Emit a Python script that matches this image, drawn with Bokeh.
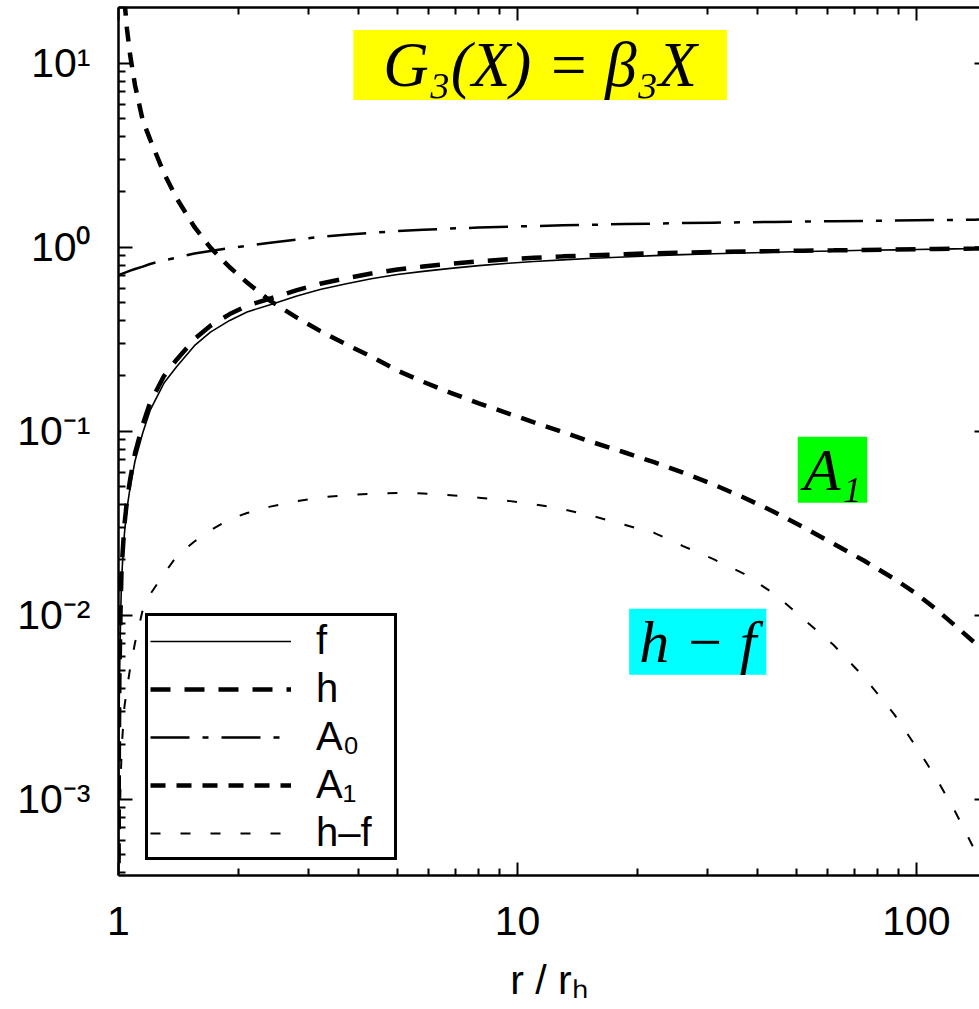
import numpy as np
from bokeh.plotting import figure
from bokeh.models import (LogAxis, FixedTicker, Legend, LegendItem, Label,
                          Range1d, ColumnDataSource)
from bokeh.embed import file_html
from bokeh.resources import INLINE

# ---------------- data ----------------
r = [1.0005, 1.002, 1.005, 1.0116, 1.017, 1.023, 1.035, 1.05, 1.07, 1.1,
     1.15, 1.2, 1.3, 1.4, 1.55, 1.7, 1.9, 2.1, 2.4, 2.8, 3.2, 3.7, 4.3, 5.0,
     5.8, 6.8, 8.0, 9.5, 11, 13, 15.5, 18.5, 22, 26, 31, 37, 44, 52, 62, 74,
     88, 100, 112, 125, 140, 150]

f = [0.0004, 0.0016, 0.004, 0.0091, 0.015, 0.019, 0.028, 0.038, 0.050, 0.069,
     0.098, 0.130, 0.183, 0.225, 0.292, 0.346, 0.4006, 0.4456, 0.488, 0.5435,
     0.5898, 0.6317, 0.6743, 0.7114, 0.7404, 0.7688, 0.7952, 0.8196, 0.837,
     0.8552, 0.8715, 0.8867, 0.901, 0.9126, 0.923, 0.9323, 0.9405, 0.9488,
     0.9559, 0.9632, 0.9692, 0.9741, 0.9777, 0.9814, 0.985, 0.9875]

h = [0.00045, 0.0018, 0.0045, 0.0103, 0.0167, 0.0212, 0.0312, 0.042, 0.0552,
     0.0761, 0.1087, 0.143, 0.1998, 0.246, 0.3172, 0.375, 0.4339, 0.4816,
     0.527, 0.5853, 0.6335, 0.6767, 0.7201, 0.7576, 0.7864, 0.8138, 0.8388,
     0.8615, 0.8772, 0.893, 0.9061, 0.9178, 0.9291, 0.9364, 0.9432, 0.9491,
     0.9536, 0.9584, 0.9628, 0.9678, 0.9721, 0.976, 0.979, 0.9823, 0.9855,
     0.9879]

A0 = [0.706, 0.707, 0.709, 0.713, 0.716, 0.72, 0.727, 0.735, 0.747, 0.762,
      0.785, 0.812, 0.85, 0.88, 0.925, 0.955, 0.99, 1.02, 1.06, 1.10, 1.14,
      1.17, 1.20, 1.225, 1.245, 1.265, 1.28, 1.295, 1.305, 1.317, 1.327,
      1.337, 1.346, 1.354, 1.361, 1.368, 1.374, 1.38, 1.386, 1.392, 1.398,
      1.402, 1.406, 1.41, 1.414, 1.417]

A1 = [1500, 380, 150, 66, 45, 33, 22, 15.4, 11.0, 7.6, 4.9, 3.86, 2.53, 1.84,
      1.29, 0.996, 0.779, 0.644, 0.512, 0.415, 0.3515, 0.2987, 0.255, 0.214,
      0.186, 0.162, 0.142, 0.125, 0.112, 0.099, 0.087, 0.077, 0.068, 0.0597,
      0.0514, 0.0436, 0.0365, 0.0302, 0.0245, 0.0198, 0.0158, 0.0131, 0.0108,
      0.0088, 0.0071, 0.0063]

h_minus_f = [0.00005, 0.0002, 0.0005, 0.0012, 0.0017, 0.0022, 0.0032, 0.0040,
             0.0052, 0.0071, 0.0107, 0.0130, 0.0168, 0.0210, 0.0252, 0.0290,
             0.0333, 0.0360, 0.0390, 0.0418, 0.0437, 0.0450, 0.0458, 0.0462,
             0.0460, 0.0450, 0.0436, 0.0419, 0.0402, 0.0378, 0.0346, 0.0311,
             0.0281, 0.0238, 0.0202, 0.0168, 0.0131, 0.0096, 0.0069, 0.0046,
             0.0029, 0.00192, 0.00131, 0.00086, 0.00053, 0.00043]

legend_labels = ["f", "h", "A₀", "A₁", "h–f"]
x_ticks = [1, 10, 100]
x_tick_labels = ["1", "10", "100"]
y_ticks = [1e-3, 1e-2, 1e-1, 1.0, 10.0]
y_tick_labels = ["10⁻³", "10⁻²", "10⁻¹", "10⁰", "10¹"]
x_title = "r / rₕ"
ann_G3 = "G₃(X) = β₃X"
ann_A1 = "A₁"
ann_hf = "h − f"

# ---------------- figure ----------------
XR = (1.0, 143.9)
YR = (3.86e-4, 20.1)

p = figure(width=979, height=1009, x_axis_type="log", y_axis_type="log",
           x_range=Range1d(*XR), y_range=Range1d(*YR),
           output_backend="svg", toolbar_location=None,
           min_border_left=118, min_border_right=0,
           min_border_top=7, min_border_bottom=134)
p.outline_line_color = None
p.xgrid.visible = False
p.ygrid.visible = False
p.background_fill_color = "white"
p.border_fill_color = "white"

x_minor = [m * 10.0 ** k for k in range(0, 3) for m in range(2, 10)
           if XR[0] < m * 10.0 ** k < XR[1]]
y_minor = [m * 10.0 ** k for k in range(-4, 2) for m in range(2, 10)
           if YR[0] < m * 10.0 ** k < YR[1]]

FONT = "Liberation Sans"

xa = p.xaxis[0]
xa.ticker = FixedTicker(ticks=x_ticks, minor_ticks=x_minor)
xa.major_label_overrides = {float(t): s for t, s in zip(x_ticks, x_tick_labels)}
xa.major_tick_in = 13
xa.major_tick_out = 0
xa.minor_tick_in = 7
xa.minor_tick_out = 0
xa.axis_line_width = 2.5
xa.axis_line_color = "black"
xa.major_tick_line_width = 2
xa.minor_tick_line_width = 2
xa.major_tick_line_color = "black"
xa.minor_tick_line_color = "black"
xa.major_label_text_font = FONT
xa.major_label_text_font_size = "41px"
xa.major_label_text_color = "black"
xa.major_label_standoff = 31
xa.axis_label = x_title
xa.axis_label_text_font = FONT
xa.axis_label_text_font_size = "41px"
xa.axis_label_text_font_style = "normal"
xa.axis_label_text_color = "black"
xa.axis_label_standoff = 19

ya = p.yaxis[0]
ya.ticker = FixedTicker(ticks=y_ticks, minor_ticks=y_minor)
ya.major_label_overrides = {float(t): s for t, s in zip(y_ticks, y_tick_labels)}
ya.major_tick_in = 14
ya.major_tick_out = 0
ya.minor_tick_in = 7
ya.minor_tick_out = 0
ya.axis_line_width = 2.5
ya.axis_line_color = "black"
ya.major_tick_line_width = 2
ya.minor_tick_line_width = 2
ya.major_tick_line_color = "black"
ya.minor_tick_line_color = "black"
ya.major_label_text_font = FONT
ya.major_label_text_font_size = "41px"
ya.major_label_text_color = "black"
ya.major_label_standoff = 28

top = LogAxis(ticker=FixedTicker(ticks=x_ticks, minor_ticks=x_minor),
              major_tick_in=13, major_tick_out=0, minor_tick_in=7, minor_tick_out=0,
              axis_line_width=2.5, axis_line_color="black",
              major_tick_line_width=2, minor_tick_line_width=2,
              major_label_text_font_size="0px", major_label_standoff=0,
              major_label_overrides={float(t): "" for t in x_ticks})
p.add_layout(top, "above")

right = LogAxis(ticker=FixedTicker(ticks=y_ticks, minor_ticks=[]),
                major_tick_in=5, major_tick_out=0, minor_tick_in=0, minor_tick_out=0,
                axis_line_color=None, major_tick_line_width=2,
                major_label_text_font_size="0px", major_label_standoff=0,
                major_label_overrides={float(t): "" for t in y_ticks})
p.add_layout(right, "right")

src = ColumnDataSource(dict(r=r, f=f, h=h, A0=A0, A1=A1, hmf=h_minus_f))

r_f = p.line("r", "f", source=src, line_color="black", line_width=1.6)
r_h = p.line("r", "h", source=src, line_color="black", line_width=4.5,
             line_dash="20 14")
r_a0 = p.line("r", "A0", source=src, line_color="black", line_width=2.5,
              line_dash="39 13 6 13")
r_a1 = p.line("r", "A1", source=src, line_color="black", line_width=4.5,
              line_dash="15 11")
r_hf = p.line("r", "hmf", source=src, line_color="black", line_width=2,
              line_dash="10 20")

legend = Legend(items=[LegendItem(label=lab, renderers=[rr]) for lab, rr in
                       zip(legend_labels, [r_f, r_h, r_a0, r_a1, r_hf])],
                location=(27, 15), orientation="vertical")
legend.border_line_color = "black"
legend.border_line_alpha = 1.0
legend.border_line_width = 3
legend.background_fill_color = "white"
legend.background_fill_alpha = 1.0
legend.label_text_font = FONT
legend.label_text_font_size = "40px"
legend.label_text_color = "black"
legend.glyph_width = 141
legend.glyph_height = 40
legend.label_height = 40
legend.label_width = 76
legend.label_standoff = 25
legend.padding = 2
legend.spacing = 3
legend.margin = 0
p.add_layout(legend)

SERIF = "Liberation Serif"
lab1 = Label(x=11.4, y=9.8, text=ann_G3, text_font=SERIF, text_font_style="italic",
             text_font_size="63px", text_align="center", text_baseline="middle",
             text_color="black", background_fill_color="#ffff00",
             padding=dict(left=30, right=30, top=0, bottom=0))
lab2 = Label(x=61.6, y=0.0618, text=ann_A1, text_font=SERIF, text_font_style="italic",
             text_font_size="60px", text_align="center", text_baseline="middle",
             text_color="black", background_fill_color="#00ff00",
             padding=dict(left=6, right=6, top=0, bottom=0))
lab3 = Label(x=28.3, y=0.00718, text=ann_hf, text_font=SERIF, text_font_style="italic",
             text_font_size="60px", text_align="center", text_baseline="middle",
             text_color="black", background_fill_color="#00ffff",
             padding=dict(left=10, right=10, top=0, bottom=0))
for lb in (lab1, lab2, lab3):
    p.add_layout(lb)

open("out.html", "w").write(file_html(p, INLINE))
